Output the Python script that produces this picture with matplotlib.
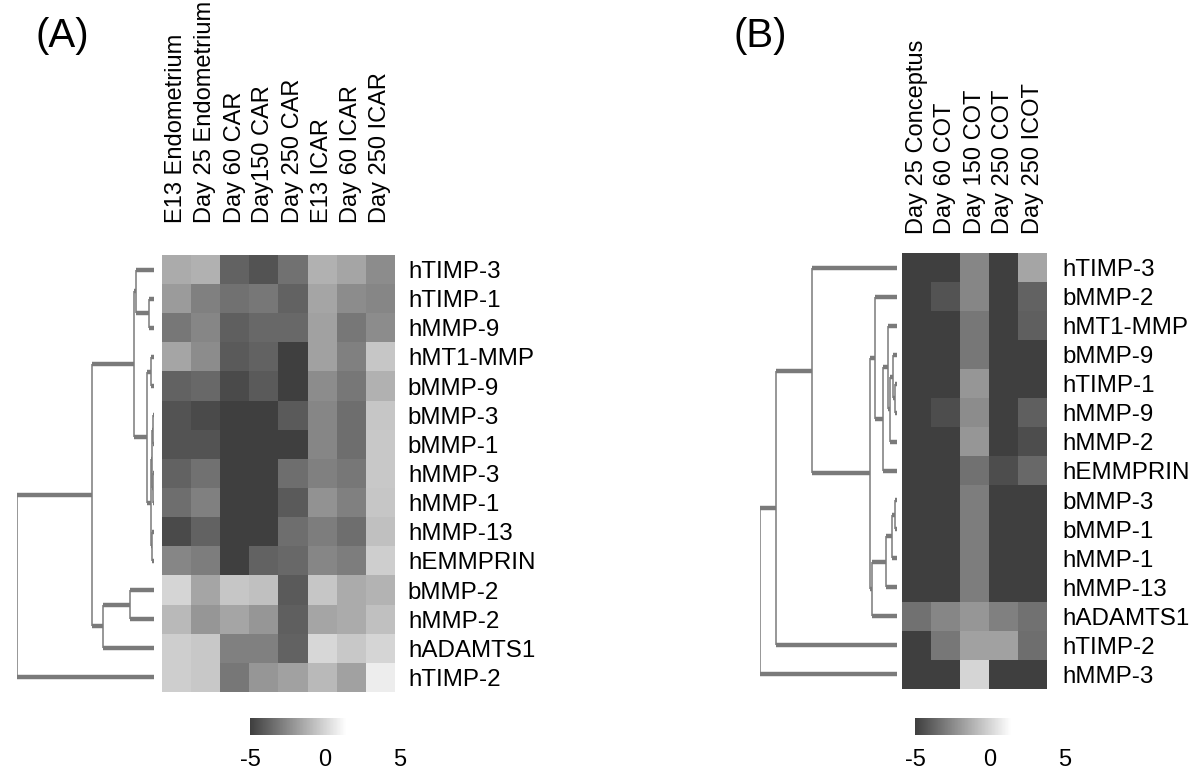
import numpy as np
import matplotlib
matplotlib.use("Agg")
import matplotlib.pyplot as plt
from matplotlib.colors import LinearSegmentedColormap

plt.rcParams['font.family'] = ['Liberation Sans', 'DejaVu Sans']

# ---------------- data: panel A ----------------
cols_a = ["E13 Endometrium", "Day 25 Endometrium", "Day 60 CAR", "Day150 CAR",
          "Day 250 CAR", "E13 ICAR", "Day 60 ICAR", "Day 250 ICAR"]
genes_a = ["hTIMP-3", "hTIMP-1", "hMMP-9", "hMT1-MMP", "bMMP-9", "bMMP-3", "bMMP-1",
           "hMMP-3", "hMMP-1", "hMMP-13", "hEMMPRIN", "bMMP-2", "hMMP-2", "hADAMTS1", "hTIMP-2"]
vals_a = [
    [-1.4, -1.2, -3.8, -4.3, -3.3, -1.2, -1.6, -2.4],
    [-1.9, -2.8, -3.3, -3.1, -3.8, -1.6, -2.4, -2.6],
    [-3.1, -2.6, -3.9, -3.6, -3.6, -1.7, -3.1, -2.4],
    [-1.6, -2.4, -4.1, -3.8, -5.0, -1.7, -2.8, -0.5],
    [-3.8, -3.6, -4.6, -4.1, -5.0, -2.4, -3.1, -1.2],
    [-4.3, -4.6, -5.0, -5.0, -4.1, -2.6, -3.4, -0.5],
    [-4.3, -4.3, -5.0, -5.0, -5.0, -2.6, -3.4, -0.4],
    [-3.8, -3.3, -5.0, -5.0, -3.4, -2.8, -3.1, -0.4],
    [-3.4, -2.8, -5.0, -5.0, -4.1, -2.2, -2.8, -0.5],
    [-4.6, -3.8, -5.0, -5.0, -3.4, -2.9, -3.4, -0.7],
    [-2.6, -2.9, -5.0, -3.8, -3.6, -2.6, -2.9, -0.2],
    [0.0, -1.6, -0.5, -0.7, -4.1, -0.5, -1.4, -1.1],
    [-0.9, -2.1, -1.6, -2.1, -3.9, -1.6, -1.4, -0.7],
    [-0.2, -0.4, -2.8, -2.8, -3.8, 0.1, -0.4, 0.0],
    [-0.2, -0.4, -3.1, -2.1, -1.7, -0.9, -1.7, 0.8],
]
# linkage: (child1, child2, height); leaves 0..14, clusters numbered from 15
link_a = [
    (1, 2, 0.36), (0, 15, 1.30), (3, 4, 0.22), (5, 6, 0.04), (7, 8, 0.07),
    (18, 19, 0.11), (9, 10, 0.15), (20, 21, 0.20), (17, 22, 0.51), (16, 23, 1.46),
    (11, 12, 1.75), (25, 13, 3.70), (24, 26, 4.50), (27, 14, 10.0),
]

# ---------------- data: panel B ----------------
cols_b = ["Day 25 Conceptus", "Day 60 COT", "Day 150 COT", "Day 250 COT", "Day 250 ICOT"]
genes_b = ["hTIMP-3", "bMMP-2", "hMT1-MMP", "bMMP-9", "hTIMP-1", "hMMP-9", "hMMP-2",
           "hEMMPRIN", "bMMP-3", "bMMP-1", "hMMP-1", "hMMP-13", "hADAMTS1", "hTIMP-2", "hMMP-3"]
vals_b = [
    [-5.0, -5.0, -2.6, -5.0, -1.6],
    [-5.0, -4.3, -2.6, -5.0, -3.8],
    [-5.0, -5.0, -3.1, -5.0, -3.9],
    [-5.0, -5.0, -3.1, -5.0, -5.0],
    [-5.0, -5.0, -2.1, -5.0, -5.0],
    [-5.0, -4.5, -2.4, -5.0, -3.9],
    [-5.0, -5.0, -2.1, -5.0, -4.5],
    [-5.0, -5.0, -3.3, -4.5, -3.6],
    [-5.0, -5.0, -2.9, -5.0, -5.0],
    [-5.0, -5.0, -2.9, -5.0, -5.0],
    [-5.0, -5.0, -2.9, -5.0, -5.0],
    [-5.0, -5.0, -2.9, -5.0, -5.0],
    [-3.3, -2.6, -2.1, -2.8, -3.3],
    [-5.0, -3.1, -1.7, -1.7, -3.4],
    [-5.0, -5.0, 0.0, -5.0, -5.0],
]
link_b = [
    (4, 5, 0.15), (3, 15, 0.29), (16, 6, 0.51), (2, 17, 0.66), (18, 7, 1.02),
    (1, 19, 1.61), (8, 9, 0.15), (21, 10, 0.36), (22, 11, 0.80), (23, 12, 1.82),
    (20, 24, 1.97), (0, 25, 6.20), (26, 13, 8.83), (27, 14, 10.0),
]

cbar_ticks = [-5, 0, 5]

# ---------------- styling ----------------
W, H = 1200, 772
cmap = LinearSegmentedColormap.from_list(
    "g", [(0.0, "#3f3f3f"), (0.64, "#ffffff"), (1.0, "#ffffff")])
DEND_COLOR = "#7a7a7a"
FS_ROW = 17.4
FS_COL = 17

fig = plt.figure(figsize=(W / 100, H / 100), dpi=100)


def add_ax(x0, y0, x1, y1):
    return fig.add_axes([x0 / W, 1 - y1 / H, (x1 - x0) / W, (y1 - y0) / H])


def draw_heat(ax, vals, cols, genes, label_pad, row_pad):
    arr = np.array(vals)
    ax.imshow(arr, cmap=cmap, vmin=-5, vmax=5, aspect="auto", interpolation="nearest")
    ax.set_xticks(range(len(cols)))
    ax.set_xticklabels(cols, rotation=90, fontsize=FS_COL)
    ax.xaxis.tick_top()
    ax.set_yticks(range(len(genes)))
    ax.set_yticklabels(genes, fontsize=FS_ROW)
    ax.yaxis.tick_right()
    ax.tick_params(axis="x", length=0, pad=label_pad)
    ax.tick_params(axis="y", length=0, pad=row_pad)
    for s in ax.spines.values():
        s.set_visible(False)


def draw_dend(ax, link, n):
    pos = {i: (0.0, float(i)) for i in range(n)}
    for k, (a, b, h) in enumerate(link):
        ha_, ya = pos[a]
        hb, yb = pos[b]
        ax.plot([ha_, h], [ya, ya], color=DEND_COLOR, lw=3.2, solid_capstyle="butt")
        ax.plot([hb, h], [yb, yb], color=DEND_COLOR, lw=3.2, solid_capstyle="butt")
        ax.plot([h, h], [ya, yb], color=DEND_COLOR, lw=1.1, solid_capstyle="butt")
        pos[n + k] = (h, (ya + yb) / 2)
    ax.set_xlim(10, 0)
    ax.set_ylim(n - 0.5, -0.5)
    ax.axis("off")


def draw_cbar(ax):
    grad = np.linspace(-5, 5, 256).reshape(1, -1)
    ax.imshow(grad, cmap=cmap, vmin=-5, vmax=5, aspect="auto",
              extent=[-5, 5, 0, 1], interpolation="nearest")
    ax.set_xlim(-5, 5)
    ax.set_xticks(cbar_ticks)
    ax.set_xticklabels([str(t) for t in cbar_ticks], fontsize=17)
    ax.tick_params(axis="x", length=0, pad=10)
    ax.set_yticks([])
    for s in ax.spines.values():
        s.set_visible(False)


# Panel A
axA = add_ax(162, 255, 394, 692)
draw_heat(axA, vals_a, cols_a, genes_a, label_pad=23, row_pad=10)
dA = add_ax(17, 255, 154, 692)
draw_dend(dA, link_a, len(genes_a))
cA = add_ax(250, 718, 400, 735)
draw_cbar(cA)
fig.text(35 / W, 1 - 36 / H, "(A)", fontsize=29, va="center", ha="left")

# Panel B
axB = add_ax(902, 253, 1047, 689)
draw_heat(axB, vals_b, cols_b, genes_b, label_pad=14, row_pad=11)
dB = add_ax(760, 253, 897, 689)
draw_dend(dB, link_b, len(genes_b))
cB = add_ax(915, 718, 1065, 735)
draw_cbar(cB)
fig.text(733 / W, 1 - 36 / H, "(B)", fontsize=29, va="center", ha="left")

fig.savefig("out.png", dpi=100, facecolor="white")
